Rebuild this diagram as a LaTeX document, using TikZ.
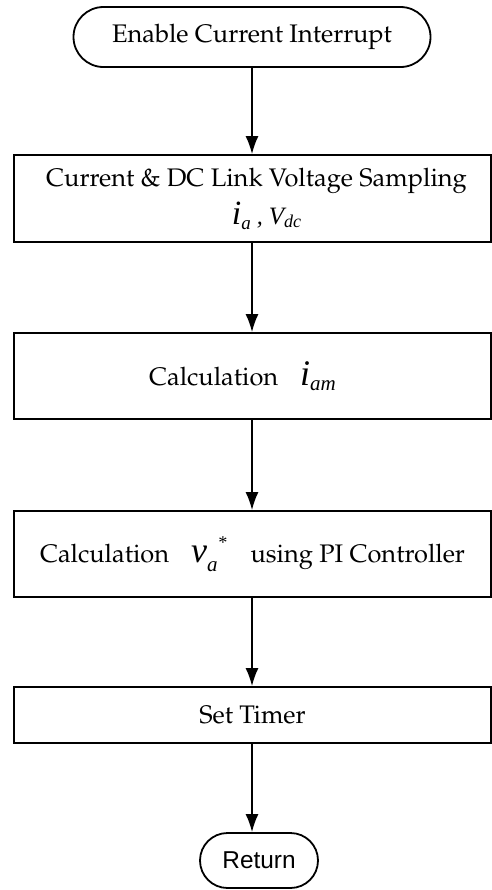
\documentclass[tikz,border=0pt]{standalone}
\usepackage[T1]{fontenc}
\usepackage{fontspec}
\usetikzlibrary{arrows.meta,shapes.misc}
\newfontfamily\libsans{Liberation Sans}
\newfontfamily\libserif{Liberation Serif}
\newcommand\palfont{\usefont{T1}{ppl}{m}{n}}
\newcommand\mi[2]{{\fontsize{#1}{#1}\selectfont\libserif\itshape #2}}
\newcommand\lowsub[1]{\raisebox{-2.5pt}{\mi{9.5}{#1}}}
\begin{document}
\begin{tikzpicture}[x=0.5pt,y=-0.5pt,
  box/.style={draw,line width=0.9pt,rectangle,minimum width=238.5pt,inner sep=0pt,align=center,
    font=\palfont\fontsize{12.7}{15}\selectfont},
  term/.style={draw,line width=0.9pt,rounded rectangle,inner sep=0pt,align=center},
  arr/.style={line width=0.8pt,-{Latex[length=9pt,width=6.5pt]}}]
\useasboundingbox (0,0) rectangle (492,890);

\node[term,minimum width=178.5pt,minimum height=30pt,font=\palfont\fontsize{12.7}{15}\selectfont] (t1) at (252,37) {Enable Current Interrupt};

\node[box,minimum height=43.5pt] (b1) at (252.5,198.5)
  {\hspace*{4pt}Current \& DC Link Voltage Sampling\\[4pt]
   \hspace*{14pt}\mi{17}{i}\lowsub{a}\mi{12}{\ ,\ }\mi{12.5}{V}\raisebox{-1.5pt}{\mi{9}{dc}}};

\node[box,minimum height=43pt] (b2) at (252.5,376)
  {\raisebox{-3pt}{Calculation\hspace{11pt}\mi{18}{i}\raisebox{-2.5pt}{\mi{10.5}{am}}\hspace*{10pt}}};

\node[box,minimum height=43pt] (b3) at (252.5,554)
  {\raisebox{-1pt}{Calculation\hspace{11pt}\mi{18}{v}\raisebox{-4.5pt}{\mi{10.5}{a}}\raisebox{7pt}{\mi{9}{*}}\hspace{12pt}using PI Controller}};

\node[box,minimum height=28pt] (b4) at (252.5,715) {Set Timer};

\node[term,minimum width=59pt,minimum height=27.5pt,font=\libsans\fontsize{12.2}{14}\selectfont] (t2) at (259,860.5) {Return};

\draw[arr] (t1.south) -- (t1.south |- b1.north);
\draw[arr] (b1.south -| t1.south) -- (t1.south |- b2.north);
\draw[arr] (b2.south -| t1.south) -- (t1.south |- b3.north);
\draw[arr] (b3.south -| t1.south) -- (t1.south |- b4.north);
\draw[arr] (b4.south -| t1.south) -- (t1.south |- t2.north);
\end{tikzpicture}
\end{document}
